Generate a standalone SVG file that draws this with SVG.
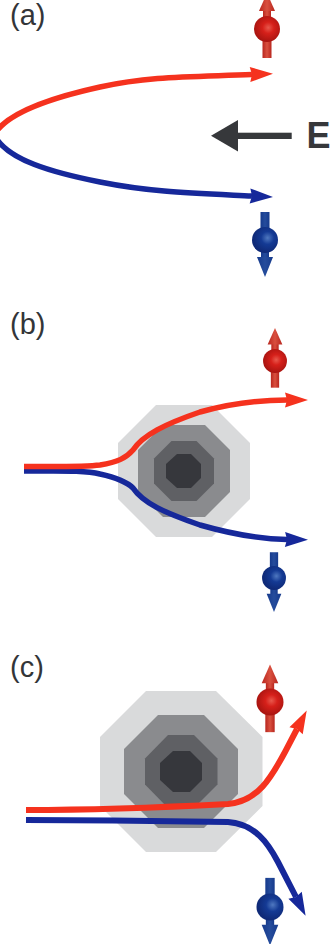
<svg xmlns="http://www.w3.org/2000/svg" width="331" height="944" viewBox="0 0 331 944">
  <style>
    .label { font-family: "Liberation Sans", Arial, sans-serif; font-size: 29px; fill: #333538; }
    .field { font-family: "Liberation Sans", Arial, sans-serif; font-size: 36px; font-weight: bold; fill: #36383b; }
    .up { fill: none; stroke: #f5321e; stroke-width: 5.500; marker-end: url(#tip-red); }
    .down { fill: none; stroke: #16289a; stroke-width: 5.500; marker-end: url(#tip-blue); }
    .d1 { fill: #d9dadb; }
    .d2 { fill: #8a8b8e; }
    .d3 { fill: #5f6064; }
    .d4 { fill: #36373c; }
  </style>
  <defs>
    <marker id="tip-red" markerUnits="userSpaceOnUse" markerWidth="24" markerHeight="16" refX="2" refY="8" orient="auto" overflow="visible">
      <path d="M0 0.500 L23 8 L0 15.500 L2 8 Z" fill="#f5321e"/>
    </marker>
    <marker id="tip-blue" markerUnits="userSpaceOnUse" markerWidth="24" markerHeight="16" refX="2" refY="8" orient="auto" overflow="visible">
      <path d="M0 0.500 L23 8 L0 15.500 L2 8 Z" fill="#16289a"/>
    </marker>
    <radialGradient id="ball-red" cx="0.55" cy="0.45" r="0.55">
      <stop offset="0" stop-color="#e8584c"/>
      <stop offset="0.4" stop-color="#d6201a"/>
      <stop offset="1" stop-color="#a81410"/>
    </radialGradient>
    <radialGradient id="ball-blue" cx="0.6" cy="0.42" r="0.55">
      <stop offset="0" stop-color="#4f78c0"/>
      <stop offset="0.45" stop-color="#143a94"/>
      <stop offset="1" stop-color="#0f2a78"/>
    </radialGradient>
    <linearGradient id="rod-red" x1="0" x2="1" y1="0" y2="0">
      <stop offset="0" stop-color="#b8261e"/>
      <stop offset="0.5" stop-color="#d9503f"/>
      <stop offset="1" stop-color="#b8261e"/>
    </linearGradient>
    <linearGradient id="rod-blue" x1="0" x2="1" y1="0" y2="0">
      <stop offset="0" stop-color="#163a8c"/>
      <stop offset="0.5" stop-color="#254c9c"/>
      <stop offset="1" stop-color="#163a8c"/>
    </linearGradient>
    <g id="spin-up">
      <rect x="-4.500" y="0" width="9" height="29" fill="url(#rod-red)"/>
      <rect x="-4" y="-20" width="8" height="10" fill="url(#rod-red)"/>
      <path d="M0 -36 L8 -18 L-8 -18 Z" fill="url(#rod-red)"/>
      <circle r="13" fill="url(#ball-red)"/>
    </g>
    <g id="spin-down">
      <rect x="-4.500" y="-28" width="9" height="28" fill="url(#rod-blue)"/>
      <rect x="-4" y="10" width="8" height="10" fill="url(#rod-blue)"/>
      <path d="M0 37 L8 17 L-8 17 Z" fill="url(#rod-blue)"/>
      <circle r="13" fill="url(#ball-blue)"/>
    </g>
  </defs>

  <rect width="331" height="944" fill="#ffffff"/>

  <!-- Panel a: open trajectories with the field arrow -->
  <text class="label" x="10" y="25">(a)</text>
  <g id="spin-a-up"><use href="#spin-up" x="267" y="29"/></g>
  <g id="spin-a-down"><use href="#spin-down" x="265" y="240"/></g>
  <g id="field-arrow">
    <path d="M211 135.700 L238 120 L238 151.500 Z" fill="#36383b"/>
    <rect x="236" y="132.700" width="55.700" height="6.300" fill="#36383b"/>
    <text class="field" x="306.500" y="148">E</text>
  </g>

  <!-- Panel b: scattering centre with moderate deflection -->
  <text class="label" x="10" y="334">(b)</text>
  <g id="centre-b">
    <path class="d1" d="M156 405 H212 L250 443 V499 L212 537 H156 L118 499 V443 Z"/>
    <path class="d2" d="M163 425 H205 L230 450 V492 L205 517 H163 L138 492 V450 Z"/>
    <path class="d3" d="M171.500 441 H196.500 L214 458.500 V483.500 L196.500 501 H171.500 L154 483.500 V458.500 Z"/>
    <path class="d4" d="M177 454 H191 L201 464 V478 L191 488 H177 L166 478 V464 Z"/>
  </g>
  <g id="spin-b-up"><use href="#spin-up" transform="translate(275 361) scale(0.92)"/></g>
  <g id="spin-b-down"><use href="#spin-down" transform="translate(274 578) scale(0.92)"/></g>

  <!-- Panel c: scattering centre with strong deflection -->
  <text class="label" x="10" y="677">(c)</text>
  <g id="centre-c">
    <path class="d1" d="M146 691 H216 L262.500 737 V806 L216 852 H146 L100 806 V737 Z"/>
    <path class="d2" d="M158 715 H204 L238 749 V794 L204 828 H158 L124 794 V749 Z"/>
    <path class="d3" d="M168 735 H194 L217.500 758.500 V784.500 L194 808 H168 L145 784.500 V758.500 Z"/>
    <path class="d4" d="M173 751 H190 L202 763 V780 L190 792 H173 L160 780 V763 Z"/>
  </g>
  <g id="spin-c-up"><use href="#spin-up" transform="translate(270 702) scale(1.04)"/></g>
  <g id="spin-c-down"><use href="#spin-down" transform="translate(270 907) scale(1.04)"/></g>

  <!-- Electron paths -->
  <g id="connectors">
    <path class="down" d="M-4 138 C10 160 50 172 100 182 S190 193 252 196"/>
    <path class="up" d="M-4 132 C10 112 50 98 100 87 S190 77 252 74.500"/>
    <path class="down" d="M24 471 C60 471 85 470 100 474 C118 478 127 482 133 488 C143 503 165 513 200 525 C228 533 255 539 287 539.500"/>
    <path class="up" d="M24 466.500 C60 466.500 85 467 100 465 C118 462 126 458 133 450 C143 435 165 424 200 412 C228 404 255 400 287 400"/>
    <path class="down" d="M26 820 C90 820 170 821 228 822 C255 824 268 843 278 862 L296 897" style="stroke-width:6"/>
    <path class="up" d="M26 810 C90 810 170 807 228 804 C258 801 271 778 285 752 L297 729" style="stroke-width:6"/>
  </g>
</svg>
